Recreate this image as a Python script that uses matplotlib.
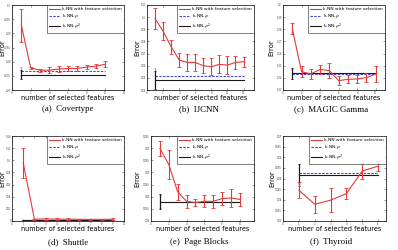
import matplotlib
matplotlib.use("Agg")
import matplotlib.pyplot as plt
from matplotlib.lines import Line2D
import numpy as np

W, H = 398, 250
DPI = 100

# ---------------- data ----------------
# (a) Covertype
cov_x = [1, 2, 3, 4, 5, 6, 7, 8, 9, 10]
cov_y = [0.2929, 0.2778, 0.2770, 0.2770, 0.2774, 0.2776, 0.2776, 0.2781, 0.2784, 0.2791]
cov_e = [0.0058, 0.0004, 0.0005, 0.0011, 0.0011, 0.0010, 0.0008, 0.0008, 0.0008, 0.0011]
cov_rho, cov_rho2, cov_base_e = 0.2768, 0.2754, 0.0015

# (b) IJCNN
ijc_x = [1, 2, 3, 4, 5, 6, 7, 8, 9, 10, 11, 12]
ijc_y = [0.0988, 0.0884, 0.0756, 0.0647, 0.0627, 0.0627, 0.0600, 0.0592, 0.0611, 0.0605, 0.0627, 0.0633]
ijc_e = [0.0087, 0.0075, 0.0058, 0.0057, 0.0067, 0.0068, 0.0062, 0.0068, 0.0075, 0.0071, 0.0055, 0.0041]
ijc_rho, ijc_rho2, ijc_base_e = 0.0515, 0.0482, 0.0075

# (c) MAGIC Gamma
mag_x = [1, 2, 3, 4, 5, 6, 7, 8, 9, 10]
mag_y = [0.1806, 0.1451, 0.1432, 0.1470, 0.1459, 0.1377, 0.1388, 0.1391, 0.1402, 0.1432]
mag_e = [0.0044, 0.0044, 0.0041, 0.0035, 0.0063, 0.0037, 0.0034, 0.0034, 0.0038, 0.0068]
mag_rho, mag_rho2, mag_base_e = 0.1432, 0.1437, 0.0048

# (d) Shuttle
shu_x = [1, 2, 3, 4, 5, 6, 7, 8, 9]
shu_y = [0.0958, 0.0030, 0.0035, 0.0030, 0.0030, 0.0028, 0.0027, 0.0027, 0.0030]
shu_e = [0.0250, 0.0010, 0.0018, 0.0012, 0.0012, 0.0010, 0.0010, 0.0010, 0.0012]
shu_rho, shu_rho2, shu_base_e = 0.0020, 0.0015, 0.0005

# (e) Page Blocks
pag_x = [1, 2, 3, 4, 5, 6, 7, 8, 9, 10]
pag_y = [0.0599, 0.0533, 0.0420, 0.0381, 0.0376, 0.0381, 0.0381, 0.0392, 0.0395, 0.0389]
pag_e = [0.0032, 0.0060, 0.0032, 0.0028, 0.0013, 0.0025, 0.0026, 0.0028, 0.0036, 0.0027]
pag_rho, pag_rho2, pag_base_e = 0.0380, 0.0380, 0.0030

# (f) Thyroid
thy_x = [1, 2, 3, 4, 5, 6]
thy_y = [0.0445, 0.0379, 0.0398, 0.0429, 0.0535, 0.0558]
thy_e = [0.0037, 0.0039, 0.0055, 0.0027, 0.0038, 0.0023]
thy_rho, thy_rho2, thy_base_e = 0.0524, 0.0516, 0.0050

legend_labels = ["k-NN with feature selection", r"k-NN-$\rho$", r"k-NN-$\rho^2$"]
captions = ["(a)  Covertype", "(b)  IJCNN", "(c)  MAGIC Gamma",
            "(d)  Shuttle", "(e)  Page Blocks", "(f)  Thyroid"]

RED = "#e23a3a"
BLUE = "#4646dc"
BLACK = "#1a1a1a"
DASH = (0, (2.2, 1.2))

fig = plt.figure(figsize=(W / DPI, H / DPI), dpi=DPI)


def add_ax(l, r, t, b):
    return fig.add_axes([l / W, 1 - b / H, (r - l) / W, (b - t) / H])


def panel(box, x, y, e, rho, rho2, base_e, xlim, xticks, ylim, yticks, caption, cap_xy, ylab_x, xlab_y):
    ax = add_ax(*box)
    l, r, t, b = box
    ax.errorbar(x, y, yerr=e, color=RED, lw=0.8, elinewidth=0.8, capsize=1.2, capthick=0.6,
                zorder=3)
    xb = [x[0], x[-1]]
    ax.plot(xb, [rho, rho], color=BLUE, lw=0.8, ls=DASH, zorder=2)
    ax.plot(xb, [rho2, rho2], color=BLACK, lw=0.8, zorder=2)
    ax.errorbar([x[0]], [rho2], yerr=[base_e], color=BLACK, lw=0, elinewidth=0.9, capsize=1.0,
                capthick=0.6, zorder=2)
    ax.errorbar([x[0]], [rho], yerr=[base_e * 0.9], color=BLUE, lw=0, elinewidth=0.6, capsize=0.8,
                capthick=0.5, zorder=1, alpha=0.6)
    ax.set_xlim(*xlim)
    ax.set_ylim(*ylim)
    ax.set_xticks(xticks)
    ax.set_yticks(yticks)
    ax.set_yticklabels(["%g" % round(v, 4) for v in yticks])
    ax.tick_params(labelsize=1.8, length=1.2, width=0.4, pad=0.8, direction="in",
                   top=True, right=True, colors="#444444")
    for s in ax.spines.values():
        s.set_linewidth(0.6)
        s.set_color("#222222")
    ax.set_xlabel("number of selected features", fontsize=4.7)
    ax.xaxis.set_label_coords(0.5, -(xlab_y - b) / (b - t))
    ax.xaxis.label.set_va("center")
    ax.set_ylabel("Error", fontsize=4.9)
    ax.yaxis.set_label_coords(-(l - ylab_x) / (r - l), 0.5)
    ax.yaxis.label.set_va("center")
    handles = [Line2D([], [], color=RED, lw=0.8),
               Line2D([], [], color=BLUE, lw=0.8, ls=DASH),
               Line2D([], [], color=BLACK, lw=0.8)]
    leg = ax.legend(handles, legend_labels, loc="upper right", fontsize=3.2,
                    frameon=True, fancybox=False, borderpad=0.35, labelspacing=0.25,
                    handlelength=2.6, handletextpad=0.4, borderaxespad=0.1, edgecolor="#222222")
    leg.get_frame().set_linewidth(0.5)
    fig.text(cap_xy[0] / W, 1 - cap_xy[1] / H, caption, ha="center", va="center",
             fontsize=6.4, family="Liberation Serif")
    return ax


panel((12, 124, 5, 90), cov_x, cov_y, cov_e, cov_rho, cov_rho2, cov_base_e,
      (0, 12), np.arange(0, 13, 2), (0.27, 0.30), np.linspace(0.27, 0.30, 7),
      captions[0], (68, 109), 2.2, 98)
panel((147, 254, 5, 90), ijc_x, ijc_y, ijc_e, ijc_rho, ijc_rho2, ijc_base_e,
      (0, 13.3), np.arange(0, 13, 2), (0.04, 0.11), np.linspace(0.04, 0.11, 8),
      captions[1], (199, 109), 137, 98)
panel((283, 385, 5, 90), mag_x, mag_y, mag_e, mag_rho, mag_rho2, mag_base_e,
      (0, 11), np.arange(0, 11, 2), (0.13, 0.20), np.linspace(0.13, 0.20, 8),
      captions[2], (331, 109), 271, 98)
panel((12, 124, 136, 221), shu_x, shu_y, shu_e, shu_rho, shu_rho2, shu_base_e,
      (0, 10), np.arange(0, 11, 1), (0, 0.14), np.linspace(0, 0.14, 8),
      captions[3], (68, 242), 2.2, 229)
panel((151, 254, 136, 221), pag_x, pag_y, pag_e, pag_rho, pag_rho2, pag_base_e,
      (0.35, 11.6), np.arange(0, 12, 2), (0.03, 0.065), np.linspace(0.03, 0.065, 8),
      captions[4], (199, 242), 137, 229)
panel((283, 386, 136, 221), thy_x, thy_y, thy_e, thy_rho, thy_rho2, thy_base_e,
      (0, 6.5), np.arange(0, 7, 1), (0.03, 0.07), np.linspace(0.03, 0.07, 9),
      captions[5], (331, 242), 272, 229)

fig.savefig("out.png", dpi=DPI)
